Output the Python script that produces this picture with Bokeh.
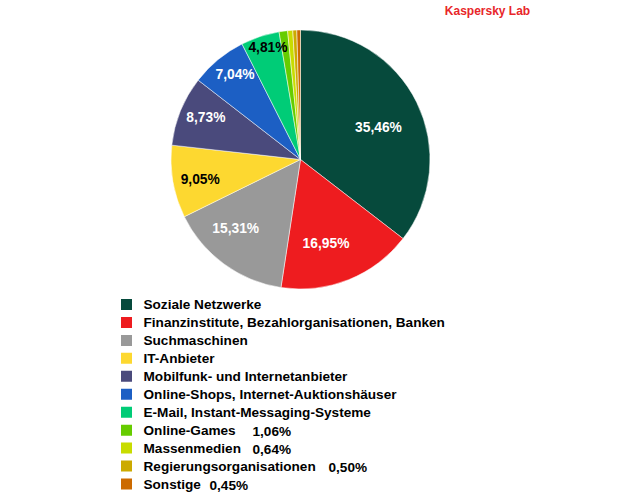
import math
from bokeh.plotting import figure
from bokeh.models import Range1d, ColumnDataSource
from bokeh.core.properties import value
from bokeh.embed import file_html
from bokeh.resources import INLINE

# ---- data ----
categories = [
    "Soziale Netzwerke",
    "Finanzinstitute, Bezahlorganisationen, Banken",
    "Suchmaschinen",
    "IT-Anbieter",
    "Mobilfunk- und Internetanbieter",
    "Online-Shops, Internet-Auktionshäuser",
    "E-Mail, Instant-Messaging-Systeme",
    "Online-Games",
    "Massenmedien",
    "Regierungsorganisationen",
    "Sonstige",
]
shares = [35.46, 16.95, 15.31, 9.05, 8.73, 7.04, 4.81, 1.06, 0.64, 0.50, 0.45]
colors = ["#064a3c", "#ee1c1f", "#999999", "#fdd830", "#4a4a7c", "#1c5fc4",
          "#00cc77", "#66cc00", "#c8dc00", "#ccaa00", "#cc6a00"]
title_text = "Kaspersky Lab"

def fmt(v):
    return ("%.2f" % v).replace(".", ",") + "%"

# ---- styles ----
W, H = 622, 492
FONT = value("Liberation Sans")
cx, cy, R = 300, 333, 129.5
label_rfrac = [0.65, 0.68, 0.73, 0.79, 0.80, 0.83, 0.90]
label_dang = [4, 5, 7, -1.5, 2, 2, 2]   # degrees, clockwise shift
label_colors = ["white", "white", "white", "black", "white", "white", "black"]
legend_x0, legend_y0, legend_dy = 126, 188, 17.95
value_x = {7: 252, 8: 252, 9: 328, 10: 209}

p = figure(width=W, height=H, x_range=Range1d(0, W), y_range=Range1d(0, H),
           output_backend="svg", toolbar_location=None, min_border=0,
           x_axis_location=None, y_axis_location=None)
p.grid.visible = False
p.outline_line_color = None
p.background_fill_color = "white"

total = sum(shares)
starts, ends, mids = [], [], []
acc = 0.0
for v in shares:
    a0 = acc / total
    acc += v
    a1 = acc / total
    starts.append(math.pi / 2 - a0 * 2 * math.pi)
    ends.append(math.pi / 2 - a1 * 2 * math.pi)
    mids.append(math.pi / 2 - (a0 + a1) / 2 * 2 * math.pi)

src = ColumnDataSource(dict(start=starts, end=ends, color=colors))
p.wedge(x=cx, y=cy, radius=R, start_angle="start", end_angle="end",
        direction="clock", fill_color="color", line_color="white",
        line_width=0.5, source=src)

# slice labels
lx, ly, lt = [], [], []
for i, f in enumerate(label_rfrac):
    a = mids[i] - math.radians(label_dang[i])
    lx.append(cx + f * R * math.cos(a))
    ly.append(cy + f * R * math.sin(a))
    lt.append(fmt(shares[i]))
p.text(x=lx, y=ly, text=lt, text_color=label_colors, text_font=FONT,
       text_font_style="bold", text_font_size="13.8px", text_align="center",
       text_baseline="middle")

# title
p.text(x=[487], y=[482], text=[title_text], text_color="#e8262a",
       text_font=FONT, text_font_style="bold", text_font_size="12px",
       text_align="center", text_baseline="middle")

# legend
ys = [legend_y0 - i * legend_dy for i in range(len(categories))]
p.rect(x=[legend_x0] * len(categories), y=ys, width=11, height=11,
       fill_color=colors, line_color=None)
p.text(x=[legend_x0 + 17] * len(categories), y=ys, text=categories,
       text_color="black", text_font=FONT, text_font_style="bold",
       text_font_size="13.6px", text_align="left", text_baseline="middle")
vx = [value_x[i] for i in value_x]
vy = [ys[i] - 1.5 for i in value_x]
vt = [fmt(shares[i]) for i in value_x]
p.text(x=vx, y=vy, text=vt, text_color="black", text_font=FONT,
       text_font_style="bold", text_font_size="13.6px", text_align="left",
       text_baseline="middle")

open("out.html", "w").write(file_html(p, INLINE))
